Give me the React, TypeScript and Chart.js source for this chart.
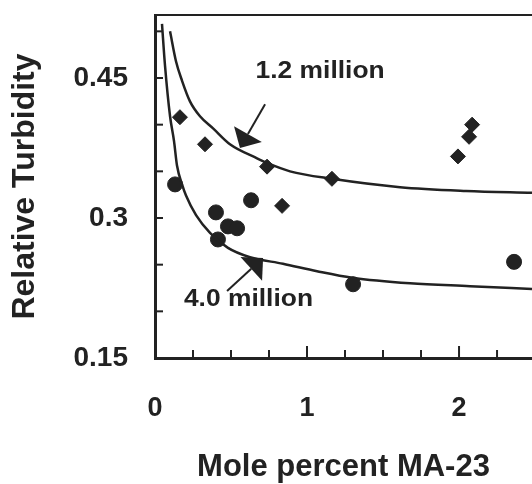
import { useEffect, useRef } from 'react';
import { Chart, registerables } from 'chart.js';

Chart.register(...registerables);

// 1.2 million sample (diamonds)
const diamondX = [0.164, 0.329, 0.737, 0.836, 1.164, 1.993, 2.066, 2.086];
const diamondY = [0.408, 0.379, 0.355, 0.313, 0.342, 0.366, 0.387, 0.4];

// 4.0 million sample (circles)
const circleX = [0.132, 0.401, 0.414, 0.48, 0.54, 0.632, 1.303, 2.362];
const circleY = [0.336, 0.306, 0.277, 0.291, 0.289, 0.319, 0.229, 0.253];

// fitted curves
const curve12X = [0.099, 0.138, 0.178, 0.23, 0.296, 0.382, 0.493, 0.671, 0.737, 0.888, 1.164, 1.612, 2.046, 2.48];
const curve12Y = [0.5, 0.468, 0.447, 0.425, 0.409, 0.396, 0.379, 0.364, 0.359, 0.35, 0.342, 0.333, 0.329, 0.327];
const curve40X = [0.046, 0.066, 0.099, 0.125, 0.145, 0.178, 0.204, 0.27, 0.362, 0.48, 0.625, 0.842, 1.066, 1.296, 1.678, 2.072, 2.48];
const curve40Y = [0.508, 0.463, 0.409, 0.3825, 0.356, 0.336, 0.324, 0.303, 0.284, 0.268, 0.258, 0.251, 0.243, 0.236, 0.23, 0.227, 0.224];

// axes
const xTickValues = [0, 0.25, 0.5, 0.75, 1, 1.25, 1.5, 1.75, 2, 2.25];
const xLabelValues = [0, 1, 2];
const xTickLabels = ['0', '1', '2'];
const yTickValues = [0.15, 0.2, 0.25, 0.3, 0.35, 0.4, 0.45, 0.5];
const yLabelValues = [0.15, 0.3, 0.45];
const yTickLabels = ['0.15', '0.3', '0.45'];

// curve labels and their arrows
const noteTexts = ['1.2 million', '4.0 million'];
const noteX = [1.086, 0.615];
const noteY = [0.45, 0.2057];
const arrowFromX = [0.724, 0.474];
const arrowFromY = [0.422, 0.2218];
const arrowToX = [0.559, 0.711];
const arrowToY = [0.375, 0.2571];

const INK = '#222222';
const FAMILY = "'Liberation Sans', Arial, Helvetica, sans-serif";

const near = (a: number, b: number) => Math.abs(a - b) < 1e-6;

const toPoints = (xs: number[], ys: number[]) => xs.map((x, i) => ({ x, y: ys[i] }));

const framePlugin = {
  id: 'frameAndNotes',
  afterDraw(chart: any) {
    const { ctx, chartArea } = chart;
    const xs = chart.scales.x;
    const ys = chart.scales.y;
    const { top, bottom, left, right } = chartArea;
    ctx.save();
    ctx.strokeStyle = INK;
    ctx.fillStyle = INK;
    ctx.lineCap = 'butt';

    // top frame line
    ctx.lineWidth = 2;
    ctx.beginPath();
    ctx.moveTo(left, top);
    ctx.lineTo(right, top);
    ctx.stroke();

    // inward tick marks
    ctx.lineWidth = 2;
    xTickValues.forEach((v) => {
      const px = xs.getPixelForValue(v);
      const len = xLabelValues.some((l) => near(l, v)) ? 12 : 8;
      ctx.beginPath();
      ctx.moveTo(px, bottom);
      ctx.lineTo(px, bottom - len);
      ctx.stroke();
    });
    yTickValues.forEach((v) => {
      const py = ys.getPixelForValue(v);
      ctx.beginPath();
      ctx.moveTo(left, py);
      ctx.lineTo(left + 8, py);
      ctx.stroke();
    });

    // arrows
    arrowFromX.forEach((fx, i) => {
      const x0 = xs.getPixelForValue(fx);
      const y0 = ys.getPixelForValue(arrowFromY[i]);
      const x1 = xs.getPixelForValue(arrowToX[i]);
      const y1 = ys.getPixelForValue(arrowToY[i]);
      const len = Math.hypot(x1 - x0, y1 - y0);
      const dx = (x1 - x0) / len;
      const dy = (y1 - y0) / len;
      const headLen = 16;
      const halfW = 16;
      const bx = x1 - dx * headLen;
      const by = y1 - dy * headLen;
      ctx.lineWidth = 2;
      ctx.beginPath();
      ctx.moveTo(x0, y0);
      ctx.lineTo(bx, by);
      ctx.stroke();
      ctx.beginPath();
      ctx.moveTo(x1, y1);
      ctx.lineTo(bx - dy * halfW, by + dx * halfW);
      ctx.lineTo(bx + dy * halfW, by - dx * halfW);
      ctx.closePath();
      ctx.fill();
    });

    // curve labels
    ctx.font = `bold 24px ${FAMILY}`;
    ctx.textAlign = 'center';
    ctx.textBaseline = 'alphabetic';
    noteTexts.forEach((t, i) => {
      const px = xs.getPixelForValue(noteX[i]);
      const py = ys.getPixelForValue(noteY[i]);
      ctx.save();
      ctx.translate(px, py);
      ctx.scale(1.1, 1);
      ctx.fillText(t, 0, 0);
      ctx.restore();
    });
    ctx.restore();
  },
};

export default function App() {
  const ref = useRef<HTMLCanvasElement>(null);

  useEffect(() => {
    if (!ref.current) return;
    const chart = new Chart(ref.current, {
      type: 'scatter',
      data: {
        datasets: [
          {
            label: '1.2 million fit',
            data: toPoints(curve12X, curve12Y),
            showLine: true,
            borderColor: INK,
            borderWidth: 2.5,
            pointRadius: 0,
            cubicInterpolationMode: 'monotone',
            fill: false,
          },
          {
            label: '4.0 million fit',
            data: toPoints(curve40X, curve40Y),
            showLine: true,
            borderColor: INK,
            borderWidth: 2.5,
            pointRadius: 0,
            cubicInterpolationMode: 'monotone',
            fill: false,
          },
          {
            label: '1.2 million',
            data: toPoints(diamondX, diamondY),
            pointStyle: 'rectRot',
            pointRadius: 7.5,
            backgroundColor: INK,
            borderColor: INK,
            borderWidth: 1,
          },
          {
            label: '4.0 million',
            data: toPoints(circleX, circleY),
            pointStyle: 'circle',
            pointRadius: 7.5,
            backgroundColor: INK,
            borderColor: INK,
            borderWidth: 1,
          },
        ],
      },
      options: {
        animation: false,
        responsive: false,
        devicePixelRatio: 1,
        layout: { autoPadding: false, padding: { top: 15, right: 0, left: 0, bottom: 0 } },
        plugins: {
          legend: { display: false },
          tooltip: { enabled: false },
        },
        scales: {
          x: {
            type: 'linear',
            position: 'bottom',
            min: 0,
            max: 2.48,
            // invisible outward tick space pushes the labels down
            grid: {
              display: true,
              drawOnChartArea: false,
              drawTicks: true,
              tickLength: 34,
              tickColor: 'rgba(0,0,0,0)',
            },
            border: { display: true, color: INK, width: 3 },
            ticks: {
              stepSize: 0.25,
              autoSkip: false,
              maxRotation: 0,
              padding: 0,
              color: INK,
              font: { family: FAMILY, size: 27, weight: 'bold' },
              callback: (v: any) => {
                const i = xLabelValues.findIndex((l) => near(l, Number(v)));
                return i >= 0 ? xTickLabels[i] : '';
              },
            },
            title: {
              display: true,
              text: 'Mole percent MA-23',
              color: INK,
              font: { family: FAMILY, size: 31, weight: 'bold', lineHeight: 1 },
              padding: { top: 0, bottom: 1.5 },
            },
            afterFit: (s: any) => {
              s.height = 126;
            },
          },
          y: {
            type: 'linear',
            min: 0.15,
            max: 0.5175,
            grid: {
              display: true,
              drawOnChartArea: false,
              drawTicks: true,
              tickLength: 27,
              tickColor: 'rgba(0,0,0,0)',
            },
            border: { display: true, color: INK, width: 3 },
            ticks: {
              stepSize: 0.05,
              autoSkip: false,
              padding: 0,
              color: INK,
              font: { family: FAMILY, size: 28, weight: 'bold', lineHeight: 1 },
              callback: (v: any) => {
                const i = yLabelValues.findIndex((l) => near(l, Number(v)));
                return i >= 0 ? yTickLabels[i] : '';
              },
            },
            title: {
              display: true,
              text: 'Relative Turbidity',
              color: INK,
              font: { family: FAMILY, size: 32, weight: 'bold' },
              padding: { top: 6, bottom: 0 },
            },
            afterFit: (s: any) => {
              s.width = 155;
            },
          },
        },
      } as any,
      plugins: [framePlugin],
    });
    return () => chart.destroy();
  }, []);

  return (
    <canvas
      ref={ref}
      width={532}
      height={484}
      style={{ position: 'fixed', left: 0, top: 0, width: 532, height: 484 }}
    />
  );
}
